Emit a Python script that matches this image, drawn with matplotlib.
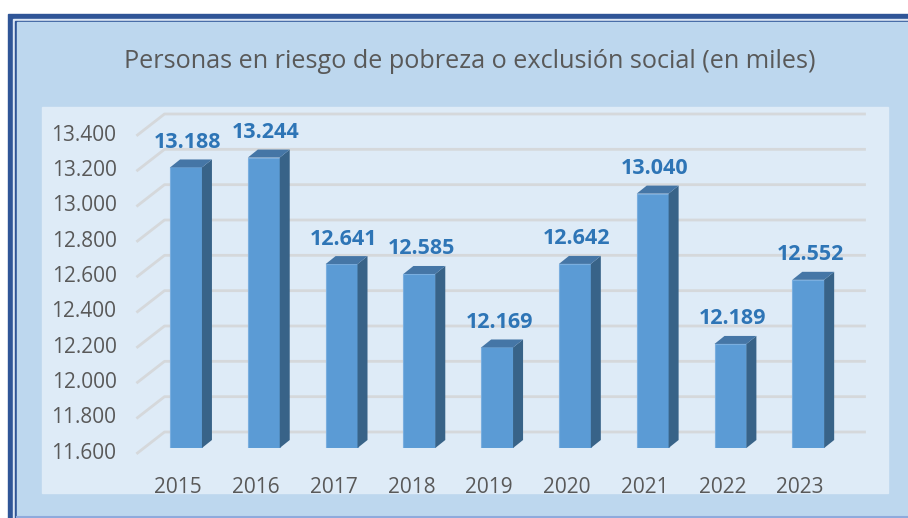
import numpy as np
import matplotlib.pyplot as plt
from matplotlib.patches import Polygon, Rectangle
from matplotlib.lines import Line2D
from matplotlib.transforms import IdentityTransform

plt.rcParams['font.family'] = ['Open Sans', 'DejaVu Sans']

# data
years = ['2015', '2016', '2017', '2018', '2019', '2020', '2021', '2022', '2023']
values = [13188, 13244, 12641, 12585, 12169, 12642, 13040, 12189, 12552]
y_ticks = np.arange(11600, 13401, 200)
title = 'Personas en riesgo de pobreza o exclusión social (en miles)'

def miles(v):
    return f'{v:,}'.replace(',', '.')

# colours
DARK_BORDER = '#2F5597'
CHART_BG = '#BDD7EE'
PLOT_BG = '#DEEBF7'
GRID = '#D5D8DB'
TEXT = '#595959'
LABEL = '#2E75B6'
FRONT = '#5B9BD5'
SIDE = '#386388'
TOP = '#4576A6'

# pseudo-3d offsets, pixels
FRONT_OFF = (-6.5, -5)   # bar plane -> front edge of floor
BACK_OFF = (20.5, 16)    # bar plane -> back wall
BAR_DEPTH = (10, 8)
BAR_W = 0.41
Y_MIN, Y_MAX = 11600, 13400

W, H = 908, 518
fig = plt.figure(figsize=(W / 100, H / 100), dpi=100)
fig.patch.set_facecolor('white')

# frame / background in pixel units
bg = fig.add_axes([0, 0, 1, 1])
bg.set_xlim(0, W)
bg.set_ylim(H, 0)
bg.axis('off')
bg.add_patch(Rectangle((8, 14), W, H, color=DARK_BORDER))
bg.add_patch(Rectangle((13.3, 19.3), W, H, color='#DCE6F4'))
bg.add_patch(Rectangle((15, 20.8), W, H, color=DARK_BORDER))
bg.add_patch(Rectangle((16.7, 22.4), W, H, color=CHART_BG))
bg.add_patch(Rectangle((42, 107), 846, 386, color=PLOT_BG))
bg.add_line(Line2D([16.7, W], [516.5, 516.5], color='#8FAADC', lw=1.5))

fig.text(470 / W, 1 - 61 / H, title, ha='center', va='center',
         fontsize=18.2, color=TEXT)

# main axes: bar front plane
ax = fig.add_axes([144 / W, (H - 448) / H, 700 / W, 318 / H])
ax.set_xlim(-0.54, 8.46)
ax.set_ylim(Y_MIN, Y_MAX)
ax.axis('off')
ax.patch.set_visible(False)

x = np.arange(len(years))
to_px = ax.transData.transform
ident = IdentityTransform()

# gridlines: slanted floor part + back wall
for v in y_ticks:
    lx, ly = to_px((ax.get_xlim()[0], v))
    rx, ry = to_px((ax.get_xlim()[1], v))
    fx, fy = lx + FRONT_OFF[0], ly + FRONT_OFF[1]
    bx, by = lx + BACK_OFF[0], ly + BACK_OFF[1]
    ex = rx + BACK_OFF[0]
    ax.add_line(Line2D([fx, bx, ex], [fy, by, by], color=GRID, lw=2,
                       transform=ident, clip_on=False, zorder=1))
    ax.annotate(miles(v), xy=(ax.get_xlim()[0], v), xytext=(FRONT_OFF[0] - 21, FRONT_OFF[1]),
                textcoords='offset pixels', ha='right', va='center',
                fontsize=15, color=TEXT, annotation_clip=False)

# bars
ax.bar(x, np.array(values) - Y_MIN, bottom=Y_MIN, width=BAR_W, color=FRONT,
       edgecolor='#7AAEDF', linewidth=0.8, zorder=3)
dx, dy = BAR_DEPTH
for i, v in enumerate(values):
    (x0, y0), (x1, y1) = to_px([(i - BAR_W / 2, Y_MIN), (i + BAR_W / 2, v)])
    side = [(x1, y0), (x1, y1), (x1 + dx, y1 + dy), (x1 + dx, y0 + dy)]
    top = [(x0, y1), (x1, y1), (x1 + dx, y1 + dy), (x0 + dx, y1 + dy)]
    ax.add_patch(Polygon(side, closed=True, facecolor=SIDE, edgecolor='none',
                         transform=ident, clip_on=False, zorder=3))
    ax.add_patch(Polygon(top, closed=True, facecolor=TOP, edgecolor='none',
                         transform=ident, clip_on=False, zorder=3))
    ax.annotate(miles(v), xy=(i, v), xytext=(2, 25), textcoords='offset pixels',
                ha='center', va='center', fontsize=15.5, fontweight='bold',
                color=LABEL, annotation_clip=False)
    ax.annotate(years[i], xy=(i, Y_MIN), xytext=(-8, -39), textcoords='offset pixels',
                ha='center', va='center', fontsize=15, color=TEXT,
                annotation_clip=False)

fig.savefig('out.png', dpi=100)
